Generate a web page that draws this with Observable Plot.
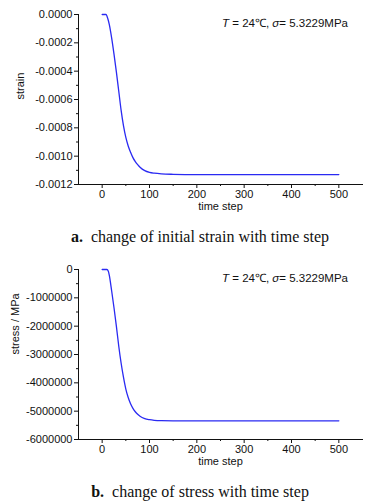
<!DOCTYPE html>
<html><head><meta charset="utf-8">
<script src="https://cdn.jsdelivr.net/npm/d3@7"></script>
<script src="https://cdn.jsdelivr.net/npm/@observablehq/plot@0.6"></script>
<style>
body{margin:0;background:#fff;width:374px;height:504px;overflow:hidden;font-family:"Liberation Sans",Arial,sans-serif;}
.block{position:relative;width:374px;}
.block svg{display:block;}
.note{position:absolute;right:26px;top:17px;font-size:11.5px;line-height:13px;color:#111;white-space:nowrap;}
.cap{font-family:"Liberation Serif","Times New Roman",serif;font-size:16px;text-align:center;padding-left:26px;width:348px;color:#111;height:37px;line-height:37px;}
</style></head><body>
<div id="c1" class="block"></div>
<div id="c2" class="block"></div>
<script>
const strainSteps = [0, 8, 12, 15, 20, 25, 30, 35, 40, 45, 50, 55, 60, 65, 70, 75, 80, 90, 100, 110, 125, 150, 200, 300, 400, 500];
const strain = [0, 0, -0.00003, -0.00007, -0.000165, -0.00028, -0.000405, -0.00054, -0.000675, -0.000785, -0.000868, -0.000928, -0.000972, -0.00101, -0.001038, -0.00106, -0.001078, -0.001102, -0.001114, -0.00112, -0.001125, -0.001128, -0.00113, -0.00113, -0.00113, -0.00113];
const stressSteps = [0, 10, 13, 15, 20, 25, 30, 35, 40, 45, 50, 55, 60, 65, 70, 75, 80, 90, 100, 110, 125, 150, 200, 300, 400, 500];
const stress = [0, 0, -60000, -200000, -750000, -1350000, -2000000, -2700000, -3300000, -3800000, -4220000, -4520000, -4740000, -4900000, -5020000, -5110000, -5180000, -5262000, -5300000, -5322000, -5335000, -5340000, -5340000, -5340000, -5340000, -5340000];

const stepTicks = [0, 100, 200, 300, 400, 500];
const stepMinor = [50, 150, 250, 350, 450];
const strainTicks = [0, -0.0002, -0.0004, -0.0006, -0.0008, -0.0010, -0.0012];
const strainMinor = [-0.0001, -0.0003, -0.0005, -0.0007, -0.0009, -0.0011];
const stressTicks = [0, -1000000, -2000000, -3000000, -4000000, -5000000, -6000000];
const stressMinor = [-500000, -1500000, -2500000, -3500000, -4500000, -5500000];

const noteHTML = '<i>T</i> = 24℃, <i>σ</i>= 5.3229MPa';

function chart(xs, values, yTicks, yMinor, fmt, ylabel, ylabelDx) {
  const data = xs.map((s, i) => ({s, v: values[i]}));
  return Plot.plot({
    width: 374, height: 218,
    marginTop: 14, marginBottom: 34, marginLeft: 78, marginRight: 12,
    style: {fontFamily: '"Liberation Sans",Arial,sans-serif', fontSize: "11px", color: "#111", background: "transparent"},
    x: {domain: [-50, 550]},
    y: {domain: [d3.min(yTicks), 0]},
    marks: [
      Plot.frame({anchor: "left", stroke: "#111"}),
      Plot.frame({anchor: "bottom", stroke: "#111"}),
      Plot.axisX(stepTicks, {tickSize: 4, tickPadding: 2, tickFormat: d => String(d), label: null}),
      Plot.axisX(stepMinor, {tickSize: 2, text: null, label: null}),
      Plot.axisY(yTicks, {tickSize: 4, tickPadding: 2, tickFormat: fmt, label: null}),
      Plot.axisY(yMinor, {tickSize: 2, text: null, label: null}),
      Plot.text(["time step"], {frameAnchor: "bottom", dy: 25, fontSize: 11, fill: "#111"}),
      Plot.text([ylabel], {frameAnchor: "left", rotate: -90, dx: ylabelDx, fontSize: 11, fill: "#111"}),
      Plot.line(data, {x: "s", y: "v", stroke: "#2a2af2", strokeWidth: 1.3, curve: "monotone-x"})
    ]
  });
}

function build(id, svg, caption) {
  const el = document.getElementById(id);
  el.appendChild(svg);
  const n = document.createElement("div");
  n.className = "note"; n.innerHTML = noteHTML;
  el.appendChild(n);
  const c = document.createElement("div");
  c.className = "cap"; c.innerHTML = caption;
  el.appendChild(c);
}

build("c1", chart(strainSteps, strain, strainTicks, strainMinor, d => d.toFixed(4), "strain", -58),
  "<b>a.</b>&nbsp; change of initial strain with time step");
build("c2", chart(stressSteps, stress, stressTicks, stressMinor, d => d.toFixed(0), "stress / MPa", -63),
  "<b>b.</b>&nbsp; change of stress with time step");
</script>
</body></html>
